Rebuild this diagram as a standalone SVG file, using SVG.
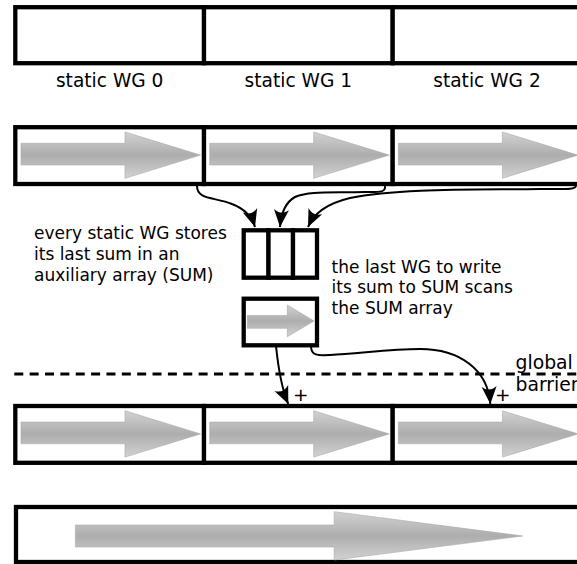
<svg xmlns="http://www.w3.org/2000/svg" xmlns:xlink="http://www.w3.org/1999/xlink" width="577" height="564" viewBox="0 0 577 564">
  <style>
    .cell { fill: #fff; stroke: #000; stroke-width: 4.3; }
    .sum { fill: #fff; stroke: #000; stroke-width: 4.3; }
    .garrow { fill: url(#gg); stroke: #a8a8a8; stroke-width: 0.6; }
    .conn { fill: none; stroke: #000; stroke-width: 2; marker-end: url(#ah); }
    .dash { fill: none; stroke: #000; stroke-width: 3; stroke-dasharray: 9 6.36; }
    .lbl { font-family: "DejaVu Sans", sans-serif; font-size: 18.6px; fill: #000; }
    .txt { font-family: "DejaVu Sans", sans-serif; font-size: 17px; fill: #000; }
    .big { font-family: "DejaVu Sans", sans-serif; font-size: 18.8px; fill: #000; }
    .plus { font-family: "DejaVu Sans", sans-serif; font-size: 18.5px; fill: #000; }
  </style>
  <defs>
    <linearGradient id="gg" x1="0" y1="0" x2="0" y2="1">
      <stop offset="0" stop-color="#d2d2d2"/>
      <stop offset="0.5" stop-color="#adadad"/>
      <stop offset="1" stop-color="#d2d2d2"/>
    </linearGradient>
    <marker id="ah" markerUnits="userSpaceOnUse" orient="auto" markerWidth="20" markerHeight="20" refX="0" refY="0" overflow="visible">
      <path d="M0,0 L-17.5,-7.5 C-13.5,-2.5 -13.5,2.5 -17.5,7.5 Z" fill="#000"/>
    </marker>
    <path id="bigArrow" d="M5.7,16.1 H109.7 V4.8 L185.2,27.9 L109.7,51.1 V37.8 H5.7 Z"/>
  </defs>

  <!-- top row: static WGs -->
  <g id="wg0">
    <rect class="cell" x="15.3" y="7.2" width="188.7" height="56"/>
    <text class="lbl" x="109.7" y="87.3" text-anchor="middle">static WG 0</text>
  </g>
  <g id="wg1">
    <rect class="cell" x="204" y="7.2" width="188.7" height="56"/>
    <text class="lbl" x="298.3" y="87.3" text-anchor="middle">static WG 1</text>
  </g>
  <g id="wg2">
    <rect class="cell" x="392.7" y="7.2" width="188.7" height="56"/>
    <text class="lbl" x="487" y="87.3" text-anchor="middle">static WG 2</text>
  </g>

  <!-- row 2: local scans -->
  <g id="scan0">
    <rect class="cell" x="15.3" y="127.2" width="188.7" height="56.8"/>
    <use xlink:href="#bigArrow" class="garrow" transform="translate(15.3,127.2)"/>
  </g>
  <g id="scan1">
    <rect class="cell" x="204" y="127.2" width="188.7" height="56.8"/>
    <use xlink:href="#bigArrow" class="garrow" transform="translate(204,127.2)"/>
  </g>
  <g id="scan2">
    <rect class="cell" x="392.7" y="127.2" width="188.7" height="56.8"/>
    <use xlink:href="#bigArrow" class="garrow" transform="translate(392.7,127.2)"/>
  </g>

  <!-- SUM array -->
  <g id="sumArray">
    <rect class="sum" x="243.7" y="230.3" width="24.8" height="47.4"/>
    <rect class="sum" x="268.5" y="230.3" width="24.5" height="47.4"/>
    <rect class="sum" x="293" y="230.3" width="24" height="47.4"/>
  </g>

  <!-- SUM scan box -->
  <g id="sumScan">
    <rect class="sum" x="243.7" y="298.7" width="73.3" height="46.6"/>
    <path class="garrow" d="M247.3,315.5 H287.3 V305 L314,321 L287.3,336.7 V328.3 H247.3 Z"/>
  </g>

  <!-- descriptive texts -->
  <g id="noteStore">
    <text class="txt" x="34" y="238.5">every static WG stores</text>
    <text class="txt" x="34" y="259.5">its last sum in an</text>
    <text class="txt" x="34" y="280.5">auxiliary array (SUM)</text>
  </g>
  <g id="noteScan">
    <text class="txt" x="331.6" y="272.7">the last WG to write</text>
    <text class="txt" x="331.6" y="293.2">its sum to SUM scans</text>
    <text class="txt" x="331.6" y="313.7">the SUM array</text>
  </g>

  <!-- global barrier -->
  <g id="barrier">
    <line class="dash" x1="14.3" y1="374" x2="577" y2="374"/>
    <text class="big" x="515.5" y="369.3">global</text>
    <text class="big" x="515.5" y="390.7">barrier</text>
  </g>

  <!-- row 3: add sums -->
  <g id="add0">
    <rect class="cell" x="15.3" y="406" width="188.7" height="56.8"/>
    <use xlink:href="#bigArrow" class="garrow" transform="translate(15.3,406)"/>
  </g>
  <g id="add1">
    <rect class="cell" x="204" y="406" width="188.7" height="56.8"/>
    <use xlink:href="#bigArrow" class="garrow" transform="translate(204,406)"/>
  </g>
  <g id="add2">
    <rect class="cell" x="392.7" y="406" width="188.7" height="56.8"/>
    <use xlink:href="#bigArrow" class="garrow" transform="translate(392.7,406)"/>
  </g>

  <!-- bottom: full scan -->
  <g id="fullScan">
    <rect class="cell" x="16" y="507" width="600" height="55"/>
    <path class="garrow" d="M75.4,525 H334.2 V511.7 L522.6,536 L334.2,560 V547 H75.4 Z"/>
  </g>

  <!-- connectors -->
  <g id="connectors">
    <path class="conn" d="M197,186 C197,200 215,197 232,204 C245,209 252,217 255,227"/>
    <path class="conn" d="M385,186 C386,193 378,192 365,192 C330,193 310,191 295,197 C284,203 281,215 280,227"/>
    <path class="conn" d="M576,186 C575,190 565,189 540,189 C480,190 400,188 350,198 C325,204 314,214 308,227"/>
    <path class="conn" d="M276,346 Q280,385 288.3,404"/>
    <path class="conn" d="M311,346 C311,356 318,355.5 330,355 C360,353.5 390,349 420,349 C460,349 488,370 490.3,404"/>
    <text class="plus" x="300.8" y="401" text-anchor="middle">+</text>
    <text class="plus" x="502.8" y="401" text-anchor="middle">+</text>
  </g>
</svg>
